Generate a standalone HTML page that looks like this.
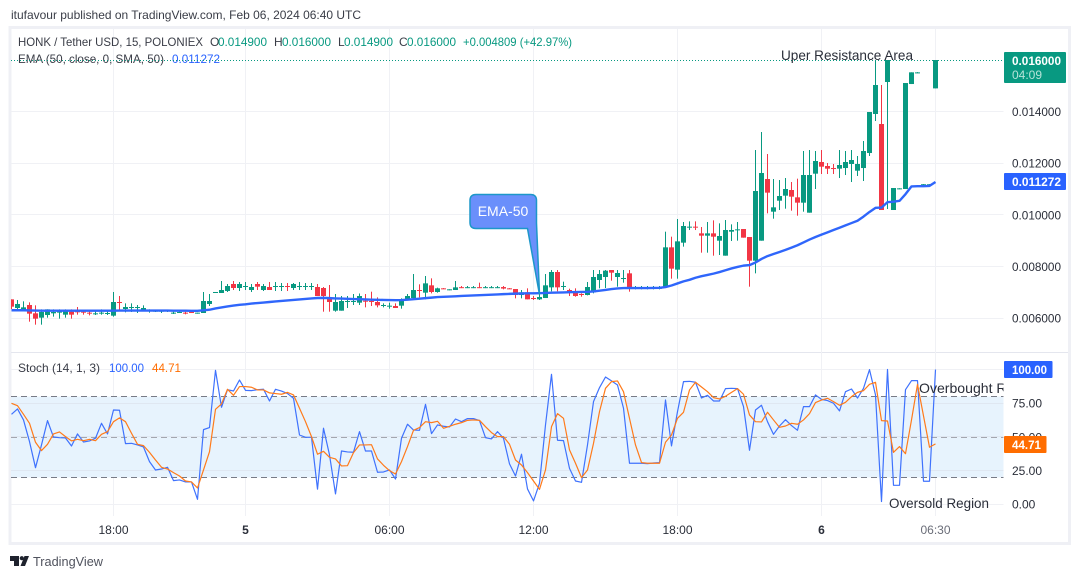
<!DOCTYPE html>
<html lang="en">
<head>
<meta charset="utf-8">
<title>HONK / Tether USD chart</title>
<style>
html,body{margin:0;padding:0;background:#fff;}
body{width:1080px;height:579px;overflow:hidden;}
svg{display:block;font-family:"Liberation Sans",sans-serif;}
</style>
</head>
<body>
<svg id="chart" width="1080" height="579" viewBox="0 0 1080 579" xmlns="http://www.w3.org/2000/svg">
  <defs>
    <clipPath id="clip-main"><rect x="11" y="29" width="992.5" height="323"/></clipPath>
    <clipPath id="clip-osc"><rect x="11" y="353" width="992.5" height="163"/></clipPath>
  </defs>
  <rect x="0" y="0" width="1080" height="579" fill="#ffffff"/>
  <text x="11" y="19" font-size="12" fill="#3a3d47" textLength="350" lengthAdjust="spacingAndGlyphs">itufavour published on TradingView.com, Feb 06, 2024 06:40 UTC</text>
  <rect x="10" y="27.5" width="1059.5" height="516" fill="none" stroke="#eff0f5" stroke-width="3"/>
  <line x1="11" x2="1068" y1="352.5" y2="352.5" stroke="#e4e6ee" stroke-width="1"/>
  <g id="grid"></g>
  <rect x="11" y="396.5" width="992.5" height="81" fill="#e7f3fd"/>
  <g id="osc-grid"></g>
  <line x1="11" x2="1003.5" y1="396.5" y2="396.5" stroke="#787b86" stroke-dasharray="6 4"/>
  <line x1="11" x2="1003.5" y1="437.5" y2="437.5" stroke="#a3a6af" stroke-dasharray="6 4"/>
  <line x1="11" x2="1003.5" y1="477.5" y2="477.5" stroke="#787b86" stroke-dasharray="6 4"/>
  <g id="candles" clip-path="url(#clip-main)"></g>
  <path id="ema-line" fill="none" stroke="#2f66fb" stroke-width="2.4" stroke-linejoin="round" clip-path="url(#clip-main)"/>
  <g clip-path="url(#clip-osc)">
    <path id="stoch-k" fill="none" stroke="#3f72fd" stroke-width="1.2" stroke-linejoin="round"/>
    <path id="stoch-d" fill="none" stroke="#ff7a1a" stroke-width="1.2" stroke-linejoin="round"/>
  </g>
  <g font-size="12">
    <text x="18" y="46" fill="#3a3d47" textLength="185" lengthAdjust="spacingAndGlyphs">HONK / Tether USD, 15, POLONIEX</text>
    <text x="210" y="46" fill="#3a3d47">O</text>
    <text x="218" y="46" fill="#089981" textLength="49" lengthAdjust="spacingAndGlyphs">0.014900</text>
    <text x="274" y="46" fill="#3a3d47">H</text>
    <text x="282" y="46" fill="#089981" textLength="49" lengthAdjust="spacingAndGlyphs">0.016000</text>
    <text x="338" y="46" fill="#3a3d47">L</text>
    <text x="344" y="46" fill="#089981" textLength="49" lengthAdjust="spacingAndGlyphs">0.014900</text>
    <text x="399" y="46" fill="#3a3d47">C</text>
    <text x="407" y="46" fill="#089981" textLength="49" lengthAdjust="spacingAndGlyphs">0.016000</text>
    <text x="463" y="46" fill="#089981" textLength="109" lengthAdjust="spacingAndGlyphs">+0.004809 (+42.97%)</text>
    <text x="18" y="63" fill="#3a3d47" textLength="146" lengthAdjust="spacingAndGlyphs">EMA (50, close, 0, SMA, 50)</text>
    <text x="172" y="63" fill="#2962ff" textLength="48" lengthAdjust="spacingAndGlyphs">0.011272</text>
    <text x="18" y="372" fill="#3a3d47" textLength="82" lengthAdjust="spacingAndGlyphs">Stoch (14, 1, 3)</text>
    <text x="109" y="372" fill="#2962ff" textLength="35" lengthAdjust="spacingAndGlyphs">100.00</text>
    <text x="152" y="372" fill="#ff6d00" textLength="29" lengthAdjust="spacingAndGlyphs">44.71</text>
  </g>
  <line x1="11" x2="1003.5" y1="60.5" y2="60.5" stroke="#089981" stroke-width="1" stroke-dasharray="1 2"/>
  <text x="781" y="60" font-size="14" fill="#2a2e39" textLength="132" lengthAdjust="spacingAndGlyphs">Uper Resistance Area</text>
  <g>
    <path d="M476 194.5H530.5Q536.5 194.5 536.5 200.5V223L539.5 294.5L527.5 228.5H476Q470 228.5 470 222.5V200.5Q470 194.5 476 194.5Z" fill="#6a8ffb" stroke="#1d97c9" stroke-width="1.5"/>
    <text x="503" y="216" font-size="14" fill="#ffffff" text-anchor="middle">EMA-50</text>
  </g>
  <text x="919" y="393" font-size="14" fill="#2a2e39" clip-path="url(#clip-osc)" textLength="122" lengthAdjust="spacingAndGlyphs">Overbought Region</text>
  <text x="889" y="508" font-size="14" fill="#2a2e39" textLength="100" lengthAdjust="spacingAndGlyphs">Oversold Region</text>
  <g id="axis-labels" font-size="12" fill="#2a2e39"></g>
  <g>
    <rect x="1004" y="52" width="62" height="31" rx="1" fill="#089981"/>
    <text x="1012" y="65" font-size="12" font-weight="bold" fill="#ffffff" textLength="49" lengthAdjust="spacingAndGlyphs">0.016000</text>
    <text x="1012" y="79" font-size="12" fill="#b5e3d8">04:09</text>
  </g>
  <g>
    <rect x="1004" y="173" width="62" height="17" rx="1" fill="#2962ff"/>
    <text x="1012" y="186" font-size="12" font-weight="bold" fill="#ffffff" textLength="49" lengthAdjust="spacingAndGlyphs">0.011272</text>
  </g>
  <g>
    <rect x="1004" y="361" width="48.5" height="17" rx="1" fill="#2962ff"/>
    <text x="1012" y="374" font-size="12" font-weight="bold" fill="#ffffff" textLength="35" lengthAdjust="spacingAndGlyphs">100.00</text>
  </g>
  <g>
    <rect x="1004" y="436" width="42.5" height="17" rx="1" fill="#ff6d00"/>
    <text x="1012" y="449" font-size="12" font-weight="bold" fill="#ffffff" textLength="29" lengthAdjust="spacingAndGlyphs">44.71</text>
  </g>
  <g>
    <path d="M10 556H19V566H14V561H10ZM24.5 556H29L25 566H20.5Z" fill="#1e222d"/>
    <circle cx="21.8" cy="558.2" r="2.1" fill="#1e222d"/>
    <text x="33" y="566" font-size="13" fill="#50535e" textLength="70" lengthAdjust="spacingAndGlyphs">TradingView</text>
  </g>
</svg>
<script>
// Prices are in millionths of USDT (6723 = 0.006723). One entry per 15-minute bar.
const opens = [
6723,6388,6310,6504,6181,6013,6116,6181,6207,6129,
6245,6258,6245,6207,6168,6194,6181,6090,6620,6349,
6413,6413,6310,6258,6258,6271,6284,6194,6220,6207,
6232,6181,6194,6543,6995,6969,7046,7318,7163,7214,
7085,7318,7085,7201,7214,7214,7240,7163,7214,7214,
7214,7201,7163,6788,6284,6284,6646,6646,6594,6670,
6660,6620,6490,6470,6465,6478,6723,6775,7085,6982,
7266,7008,7150,7105,7085,7195,7188,7188,7195,7188,
7188,7188,7200,7150,7124,6891,6995,6775,6723,6775,
7188,7783,7214,7085,7008,6930,6891,6995,7473,7589,
7860,7589,7524,7731,7160,7160,7160,7160,7160,7214,
8739,7873,8920,9520,9540,9281,9191,9281,8997,8416,
9346,9420,9449,9139,8222,8997,11387,10121,10547,10741,
10961,10677,10470,10082,11594,12046,11891,11813,11788,11813,
11969,11710,11813,12395,13907,13519,15147,10186,11010,11000,
15069,15510,11170,11170,14900];
const highs = [
6723,6698,6646,6607,6491,6336,6336,6336,6336,6336,
6336,6426,6323,6284,6258,6336,6284,7008,6853,6568,
6568,6504,6491,6336,6323,6323,6323,6245,6258,6245,
6258,6207,7008,6930,7008,7434,7318,7434,7395,7395,
7318,7395,7318,7395,7395,7356,7356,7356,7395,7356,
7356,7318,7201,7279,6930,6853,6853,6930,6950,6930,
7020,6800,6568,6594,6568,6762,6930,7705,7305,7628,
7537,7176,7160,7115,7434,7240,7240,7240,7370,7240,
7240,7240,7240,7160,7124,7085,7150,6852,6956,7705,
7860,7860,7408,7137,7150,6956,7395,7860,7860,7860,
7860,7860,7860,7860,7240,7240,7240,7240,7240,9346,
9152,9837,9721,9746,9746,9527,9721,9785,9669,9798,
9630,9721,9449,9139,12511,13209,12356,11387,11348,11426,
11271,11400,12473,12511,12473,12511,12007,11969,12511,12473,
12511,12279,12860,13984,16000,15031,16000,11038,11030,15108,
15522,15530,11190,11190,16000];
const lows = [
6349,6349,6310,5858,5742,5742,6013,6052,5974,6013,
5974,6129,6129,6103,6116,6129,6116,6052,6310,6220,
6232,6194,6284,6207,6232,6194,6232,6155,6207,6142,
6207,6181,6194,6465,6995,6969,7008,7085,7046,7085,
7008,7085,7046,7085,7046,7046,7046,7085,7085,7085,
7085,6853,6245,6245,6245,6284,6388,6504,6504,6413,
6465,6413,6413,6361,6388,6361,6723,6762,6800,6723,
6956,6982,7140,7095,7085,7160,7160,7160,7160,7160,
7160,7160,7110,7130,6762,6762,6723,6698,6698,6775,
7034,7034,7085,6852,6827,6827,6878,6956,7150,7163,
7447,7214,7369,7020,7110,7110,7110,7110,7110,7214,
7524,7524,8765,9410,9410,8532,8532,8416,8442,8416,
8984,8997,9114,7214,7731,8997,10057,9850,10186,10237,
10160,9966,10121,10082,11000,11581,11581,11581,11426,11542,
11271,11504,11310,12279,13635,10186,10224,10186,11000,11000,
15069,15500,11170,11170,14900];
const closes = [
6439,6543,6413,6168,5974,6232,6336,6232,6258,6258,
6129,6245,6207,6181,6181,6207,6194,6620,6607,6426,
6426,6426,6388,6297,6284,6284,6297,6207,6232,6194,
6220,6207,6659,6659,7008,7085,7240,7163,7318,7240,
7201,7214,7240,7085,7240,7240,7227,7318,7240,7240,
7240,6853,6853,6620,6620,6659,6659,6659,6852,6660,
6650,6491,6504,6478,6388,6736,6852,7085,7072,7343,
7008,7150,7145,7112,7188,7188,7195,7195,7188,7195,
7195,7195,7140,7140,6891,6995,6723,6736,6813,7266,
7783,7188,7240,6982,6852,6891,7201,7589,7705,7835,
7757,7744,7550,7137,7170,7170,7170,7170,7170,8739,
7912,8971,9566,9540,9520,9191,9281,9152,9178,9411,
9411,9436,9114,8222,10922,11620,10858,10289,10728,11000,
10703,10470,11542,11542,12085,11865,11788,11801,11930,12046,
12124,11969,12473,13984,15031,10186,16000,11038,11025,15108,
15522,15520,11185,11185,16000];
const emaValues = [
6300,6300,6300,6295,6290,6285,6285,6285,6285,6285,
6285,6285,6285,6285,6285,6285,6285,6285,6290,6290,
6290,6290,6290,6290,6290,6290,6290,6285,6285,6285,
6280,6280,6300,6320,6370,6410,6450,6480,6510,6530,
6560,6580,6600,6620,6640,6660,6680,6700,6720,6740,
6760,6775,6780,6770,6760,6755,6745,6735,6730,6720,
6710,6705,6700,6695,6690,6695,6710,6730,6750,6770,
6790,6810,6820,6830,6840,6855,6865,6875,6885,6895,
6905,6915,6925,6935,6945,6950,6955,6955,6960,6970,
6980,6985,6990,7000,7005,7010,7015,7030,7060,7090,
7120,7145,7160,7165,7160,7160,7160,7165,7170,7200,
7260,7340,7420,7480,7560,7620,7670,7720,7780,7850,
7920,7980,8030,8050,8150,8290,8400,8480,8560,8640,
8730,8820,8930,9040,9140,9230,9320,9410,9500,9590,
9680,9770,9930,10110,10270,10280,10490,10510,10540,10800,
11100,11110,11110,11120,11272];
const stochK = [
66.7,70.7,62.5,46.4,27.0,43.9,62.0,49.8,49.3,49.1,
43.1,52.1,46.1,46.9,48.9,60.0,52.1,69.9,69.7,44.9,
45.1,43.9,42.4,31.5,25.3,26.0,27.3,17.4,17.9,16.4,
16.4,3.5,55.3,56.8,99.4,71.9,85.0,84.0,92.2,84.5,
84.3,85.0,85.3,76.6,85.3,84.0,82.1,78.6,51.3,49.6,
49.6,11.0,56.3,36.5,7.5,39.4,38.7,38.5,53.8,39.4,
39.4,23.6,23.8,25.3,18.6,48.9,59.3,55.0,54.8,74.1,
52.3,58.8,57.8,57.3,63.2,61.2,63.5,63.5,62.0,49.3,
48.4,53.8,48.9,29.8,20.8,37.0,11.2,2.3,15.4,58.8,
96.4,47.4,47.1,26.5,17.1,16.1,43.9,76.1,86.5,94.4,
91.5,88.5,71.2,30.3,30.3,30.3,30.0,30.5,30.8,77.3,
43.2,68.7,91.0,91.2,90.5,78.8,80.8,76.6,76.6,85.8,
86.0,85.8,72.4,39.9,69.9,73.4,61.2,51.8,58.0,62.7,
58.3,54.8,72.4,72.4,81.1,77.8,76.9,74.9,69.2,83.5,
85.5,78.8,86.0,99.9,81.1,1.8,100,13.9,13.9,85.0,
91.7,91.7,16.9,16.9,100];
const stochD = [
74.9,73.1,66.7,60.0,45.9,39.7,44.4,52.1,53.6,50.1,
46.9,48.1,47.1,48.1,47.1,51.8,53.8,61.2,64.0,61.2,
52.6,44.4,43.4,38.4,32.7,27.3,26.0,23.3,20.8,17.1,
16.4,11.9,25.3,38.9,70.4,74.4,85.3,80.8,87.3,87.3,
86.8,84.8,84.8,82.6,82.1,81.6,83.0,81.1,71.2,61.2,
50.1,37.0,39.2,34.7,33.5,28.3,28.5,38.2,43.9,43.9,
44.1,33.5,28.8,24.8,22.3,31.5,42.7,54.8,56.8,61.2,
60.5,61.5,56.3,57.8,59.3,60.5,62.2,62.5,62.2,57.5,
53.1,50.1,50.1,44.4,32.7,29.0,23.3,17.1,10.9,25.3,
57.5,67.2,63.7,40.2,30.3,19.6,25.3,45.1,68.7,86.0,
91.0,91.5,83.5,63.7,43.9,30.8,30.3,30.3,30.3,45.9,
51.3,63.7,68.2,84.8,90.5,87.0,83.5,79.1,78.1,80.1,
83.0,85.8,81.6,66.2,61.2,61.0,68.2,62.5,57.0,58.0,
60.0,59.3,62.5,67.2,75.4,77.3,78.6,76.1,73.4,75.6,
79.8,83.0,84.3,89.0,90.5,62.0,61.7,38.4,42.7,37.4,
62.5,89.0,65.5,42.2,44.71];
const priceTicks = [14000,12000,10000,8000,6000];
const stochTicks = [100,75,50,25,0];
const stochTickLabels = ["75.00","25.00","0.00","50.00"];
const stochTickValues = [75,25,0,50];
const timeTickBars = [17,39,63,87,111,135,154];
const timeTickLabels = ["18:00","5","06:00","12:00","18:00","6","06:30"];

const SVG_NS = "http://www.w3.org/2000/svg";
function barX(i){ return 11.5 + 6 * i; }
function priceY(p){ return 60 + (16000 - p) * 0.0258; }
function stochY(v){ return 504 - v * 1.345; }
function make(tag, parent){
  const el = document.createElementNS(SVG_NS, tag);
  parent.appendChild(el);
  return el;
}
function linePath(values, yFn){
  let d = "";
  for (let i = 0; i < values.length; i++) {
    d += (i ? "L" : "M") + barX(i).toFixed(1) + " " + yFn(values[i]).toFixed(2);
  }
  return d;
}

const grid = document.getElementById("grid");
for (let i = 0; i < timeTickBars.length; i++) {
  const line = make("line", grid);
  
  
  line.setAttribute("x1", barX(timeTickBars[i]));
  line.setAttribute("x2", barX(timeTickBars[i]));
  line.setAttribute("y1", 29);
  line.setAttribute("y2", 516);
  line.setAttribute("stroke", "#f0f1f5");
}
for (let i = 0; i < priceTicks.length; i++) {
  const line = make("line", grid);
  
  
  const gy = Math.floor(priceY(priceTicks[i])) + 0.5;
  line.setAttribute("x1", 11);
  line.setAttribute("x2", 1003.5);
  line.setAttribute("y1", gy);
  line.setAttribute("y2", gy);
  line.setAttribute("stroke", "#f0f1f5");
}
const oscGrid = document.getElementById("osc-grid");
for (let i = 0; i < stochTicks.length; i++) {
  const line = make("line", oscGrid);
  
  
  const gy = Math.floor(stochY(stochTicks[i])) + 0.5;
  line.setAttribute("x1", 11);
  line.setAttribute("x2", 1003.5);
  line.setAttribute("y1", gy);
  line.setAttribute("y2", gy);
  line.setAttribute("stroke", i === 0 || i === 4 ? "#f0f1f5" : "#dfe7f1");
}

const candlesGroup = document.getElementById("candles");
for (let i = 0; i < opens.length; i++) {
  const up = closes[i] >= opens[i];
  const color = up ? "#089981" : "#f23645";
  const wick = make("rect", candlesGroup);
  
  
  wick.setAttribute("x", barX(i) - 0.5);
  wick.setAttribute("y", priceY(highs[i]));
  wick.setAttribute("width", 1);
  wick.setAttribute("height", Math.max(1, priceY(lows[i]) - priceY(highs[i])));
  wick.setAttribute("fill", color);
  const body = make("rect", candlesGroup);
  
  
  const top = priceY(Math.max(opens[i], closes[i]));
  const bottom = priceY(Math.min(opens[i], closes[i]));
  body.setAttribute("x", barX(i) - 2.5);
  body.setAttribute("y", top);
  body.setAttribute("width", 5);
  body.setAttribute("height", Math.max(1, bottom - top));
  body.setAttribute("fill", color);
}

document.getElementById("ema-line").setAttribute("d", linePath(emaValues, priceY));
document.getElementById("stoch-k").setAttribute("d", linePath(stochK, stochY));
document.getElementById("stoch-d").setAttribute("d", linePath(stochD, stochY));

const labels = document.getElementById("axis-labels");
for (let i = 0; i < priceTicks.length; i++) {
  const t = make("text", labels);
  
  
  t.setAttribute("x", 1012);
  t.setAttribute("y", priceY(priceTicks[i]) + 4.5);
  t.setAttribute("textLength", 49);
  t.setAttribute("lengthAdjust", "spacingAndGlyphs");
  t.textContent = (priceTicks[i] / 1e6).toFixed(6);
}
for (let i = 0; i < stochTickValues.length; i++) {
  const t = make("text", labels);
  
  
  t.setAttribute("x", 1012);
  t.setAttribute("y", stochY(stochTickValues[i]) + 4.5);
  t.textContent = stochTickLabels[i];
}
for (let i = 0; i < timeTickBars.length; i++) {
  const t = make("text", labels);
  
  
  t.setAttribute("x", barX(timeTickBars[i]));
  t.setAttribute("y", 534);
  t.setAttribute("text-anchor", "middle");
  t.setAttribute("fill", i === 6 ? "#6a6d78" : "#2a2e39");
  t.setAttribute("font-weight", i === 1 || i === 5 ? "bold" : "normal");
  t.textContent = timeTickLabels[i];
}
</script>
</body>
</html>
